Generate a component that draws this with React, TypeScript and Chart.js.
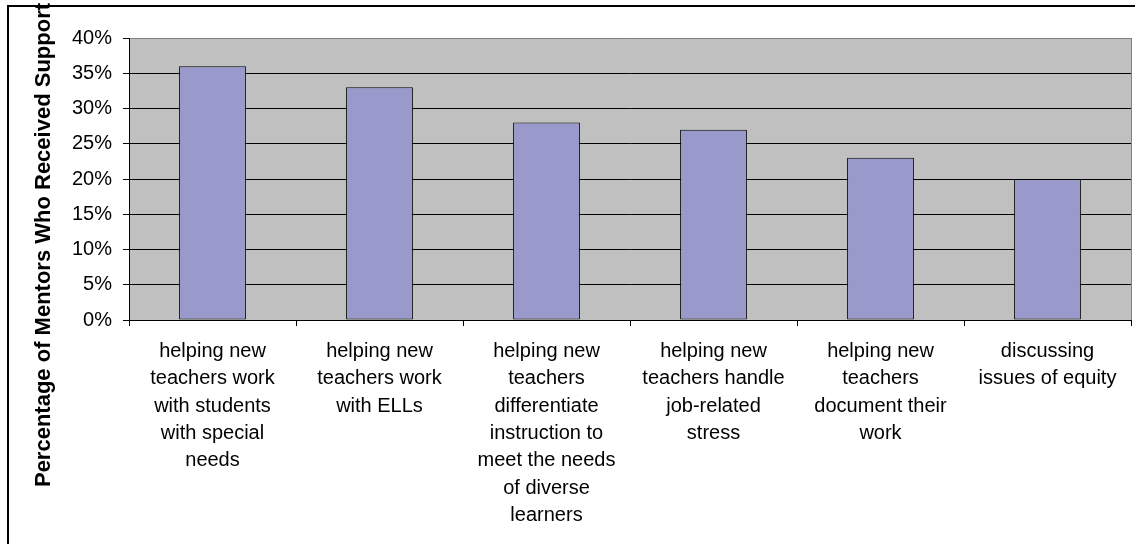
import React, { useEffect, useRef } from "react";
import { Chart, registerables } from "chart.js";

Chart.register(...registerables);

const categories: string[][] = [
  ["helping new", "teachers work", "with students", "with special", "needs"],
  ["helping new", "teachers work", "with ELLs"],
  ["helping new", "teachers", "differentiate", "instruction to", "meet the needs", "of diverse", "learners"],
  ["helping new", "teachers handle", "job-related", "stress"],
  ["helping new", "teachers", "document their", "work"],
  ["discussing", "issues of equity"],
];

const values: number[] = [36, 33, 28, 27, 23, 20];

const yMin = 0;
const yMax = 40;
const yStep = 5;

const yTitle = "Percentage of Mentors Who Received Support";

const FONT = "'Liberation Sans', Arial, sans-serif";

const decorPlugin = {
  id: "decor",
  beforeDraw(chart: any) {
    const { ctx, chartArea } = chart;
    ctx.save();
    ctx.fillStyle = "#ffffff";
    ctx.fillRect(0, 0, chart.width, chart.height);
    ctx.fillStyle = "#C0C0C0";
    ctx.fillRect(
      chartArea.left,
      chartArea.top,
      chartArea.right - chartArea.left,
      chartArea.bottom - chartArea.top
    );
    ctx.restore();
  },
  afterDraw(chart: any) {
    const { ctx, chartArea } = chart;
    ctx.save();
    // plot area right border (gray)
    ctx.strokeStyle = "#808080";
    ctx.lineWidth = 1;
    ctx.beginPath();
    ctx.moveTo(chartArea.right + 0.5, chartArea.top);
    ctx.lineTo(chartArea.right + 0.5, chartArea.bottom);
    ctx.stroke();
    // outer chart border (top and left)
    ctx.fillStyle = "#000000";
    ctx.fillRect(7, 5, chart.width, 2);
    ctx.fillRect(7, 5, 2, chart.height);
    // y axis title
    ctx.translate(50, 245);
    ctx.rotate(-Math.PI / 2);
    ctx.font = `bold 22px ${FONT}`;
    ctx.fillStyle = "#000000";
    ctx.textAlign = "center";
    ctx.textBaseline = "alphabetic";
    ctx.fillText(yTitle, 0, 0);
    ctx.restore();
  },
};

export default function App() {
  const canvasRef = useRef<HTMLCanvasElement | null>(null);

  useEffect(() => {
    if (!canvasRef.current) return;
    const chart = new Chart(canvasRef.current, {
      type: "bar",
      data: {
        labels: categories,
        datasets: [
          {
            data: values,
            backgroundColor: "#9999CC",
            borderColor: "#000000",
            borderWidth: 1,
            borderSkipped: false,
            barPercentage: 0.5,
            categoryPercentage: 0.8,
          },
        ],
      },
      options: {
        responsive: false,
        animation: false,
        events: [],
        layout: { padding: { top: 38, right: 4, left: 0, bottom: 0 } },
        plugins: {
          legend: { display: false },
          tooltip: { enabled: false },
          title: { display: false },
        },
        scales: {
          x: {
            offset: true,
            border: { display: true, color: "#000000", width: 1 },
            grid: {
              offset: true,
              drawOnChartArea: false,
              drawTicks: true,
              tickLength: 6,
              tickColor: "#000000",
              color: "#000000",
            },
            ticks: {
              autoSkip: false,
              maxRotation: 0,
              minRotation: 0,
              padding: 12,
              color: "#000000",
              font: { family: FONT, size: 20, lineHeight: 1.365 },
            },
            afterFit(scale: any) {
              scale.height = 224;
            },
          },
          y: {
            min: yMin,
            max: yMax,
            border: { display: true, color: "#000000", width: 1 },
            grid: {
              drawTicks: true,
              tickLength: 6,
              tickColor: "#000000",
              color: (c: any) =>
                c.tick && c.tick.value === yMax ? "#808080" : "#000000",
            },
            ticks: {
              stepSize: yStep,
              padding: 11,
              color: "#000000",
              font: { family: FONT, size: 20 },
              callback: (v: any) => `${v}%`,
            },
            afterFit(scale: any) {
              scale.width = 129;
            },
          },
        },
      },
      plugins: [decorPlugin],
    });
    return () => chart.destroy();
  }, []);

  return (
    <div style={{ position: "absolute", left: 0, top: 0, width: 1135, height: 544 }}>
      <canvas ref={canvasRef} width={1135} height={544} style={{ display: "block" }} />
    </div>
  );
}
